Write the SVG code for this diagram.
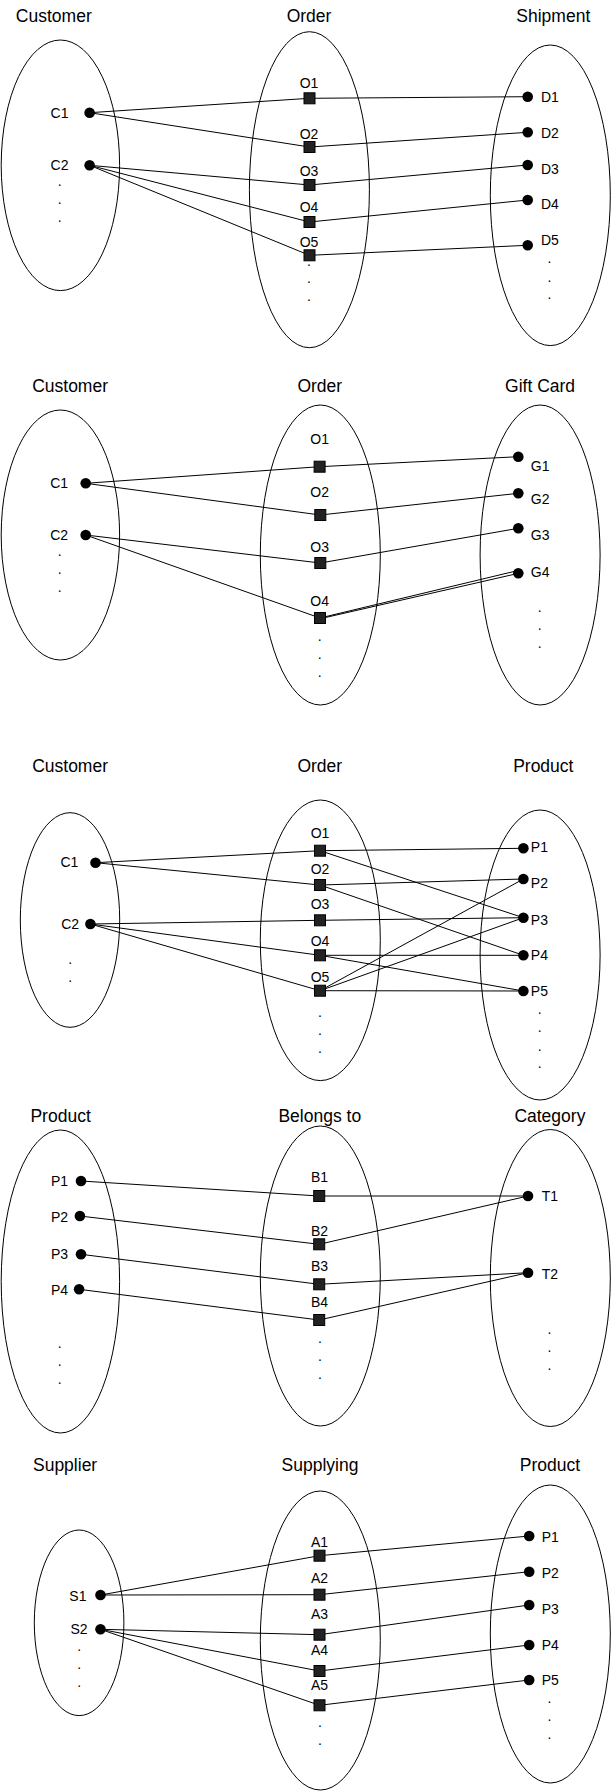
<svg xmlns="http://www.w3.org/2000/svg" width="611" height="1791" viewBox="0 0 611 1791">
<style>
.set{fill:none;stroke:#000;stroke-width:1}
.title{font-family:"Liberation Sans",Arial,Helvetica,sans-serif;font-size:17.5px;fill:#000;text-anchor:middle}
.lbl{font-family:"Liberation Sans",Arial,Helvetica,sans-serif;font-size:14px;fill:#000}
.m{text-anchor:middle}
.dot{fill:#000}
.sq{fill:#222;stroke:#000;stroke-width:1}
.cn line{stroke:#000;stroke-width:1}
</style>
<rect width="611" height="1791" fill="#fff"/>

<!-- ===== Section 1 ===== -->
<g id="set-customer-1"><ellipse class="set" cx="60.4" cy="165.3" rx="59.2" ry="125.3"/><text class="title" x="53.8" y="22">Customer</text>
<text class="lbl m" x="59.6" y="186">.</text><text class="lbl m" x="59.6" y="204.4">.</text><text class="lbl m" x="59.6" y="222.4">.</text></g>
<g id="set-order-1"><ellipse class="set" cx="309.4" cy="189.7" rx="60" ry="158"/><text class="title" x="309" y="22">Order</text>
<text class="lbl m" x="309" y="265.7">.</text><text class="lbl m" x="309" y="283.4">.</text><text class="lbl m" x="309" y="301.4">.</text></g>
<g id="set-shipment-1"><ellipse class="set" cx="550.3" cy="195.3" rx="60" ry="150.3"/><text class="title" x="553.3" y="22">Shipment</text>
<text class="lbl m" x="549.5" y="263.4">.</text><text class="lbl m" x="549.5" y="281.7">.</text><text class="lbl m" x="549.5" y="299.4">.</text></g>

<g id="connectors-1" class="cn">
<line x1="89.6" y1="112.7" x2="309.5" y2="98.3"/><line x1="309.5" y1="98.3" x2="527.7" y2="96.7"/>
<line x1="89.6" y1="112.7" x2="309.5" y2="147"/><line x1="309.5" y1="147" x2="527.7" y2="132.3"/>
<line x1="89.6" y1="165.3" x2="309.5" y2="185"/><line x1="309.5" y1="185" x2="527.7" y2="165"/>
<line x1="89.6" y1="165.3" x2="309.5" y2="222"/><line x1="309.5" y1="222" x2="527.7" y2="200"/>
<line x1="89.6" y1="165.3" x2="309.5" y2="255.3"/><line x1="309.5" y1="255.3" x2="527.7" y2="245.3"/>
</g>

<g id="C1-1"><circle class="dot" cx="89.6" cy="112.7" r="5.3"/><text class="lbl m" x="59.5" y="117.5">C1</text></g>
<g id="C2-1"><circle class="dot" cx="89.6" cy="165.3" r="5.3"/><text class="lbl m" x="59.5" y="169.5">C2</text></g>
<g id="O1-1"><rect class="sq" x="304" y="92.8" width="11" height="11"/><text class="lbl m" x="309" y="88.3">O1</text></g>
<g id="O2-1"><rect class="sq" x="304" y="141.5" width="11" height="11"/><text class="lbl m" x="309" y="139.3">O2</text></g>
<g id="O3-1"><rect class="sq" x="304" y="179.5" width="11" height="11"/><text class="lbl m" x="309" y="175.7">O3</text></g>
<g id="O4-1"><rect class="sq" x="304" y="216.5" width="11" height="11"/><text class="lbl m" x="309" y="212">O4</text></g>
<g id="O5-1"><rect class="sq" x="304" y="249.8" width="11" height="11"/><text class="lbl m" x="309" y="247.3">O5</text></g>
<g id="D1"><circle class="dot" cx="527.7" cy="96.7" r="5.3"/><text class="lbl" x="541" y="101.7">D1</text></g>
<g id="D2"><circle class="dot" cx="527.7" cy="132.3" r="5.3"/><text class="lbl" x="541" y="137.5">D2</text></g>
<g id="D3"><circle class="dot" cx="527.7" cy="165" r="5.3"/><text class="lbl" x="541" y="174">D3</text></g>
<g id="D4"><circle class="dot" cx="527.7" cy="200" r="5.3"/><text class="lbl" x="541" y="209">D4</text></g>
<g id="D5"><circle class="dot" cx="527.7" cy="245.3" r="5.3"/><text class="lbl" x="541" y="245.3">D5</text></g>

<!-- ===== Section 2 ===== -->
<g id="set-customer-2"><ellipse class="set" cx="60.4" cy="535" rx="59.2" ry="125"/><text class="title" x="70.1" y="391.7">Customer</text>
<text class="lbl m" x="59.6" y="556.4">.</text><text class="lbl m" x="59.6" y="574">.</text><text class="lbl m" x="59.6" y="592">.</text></g>
<g id="set-order-2"><ellipse class="set" cx="320.3" cy="555" rx="60" ry="150"/><text class="title" x="319.8" y="391.7">Order</text>
<text class="lbl m" x="319.6" y="641.4">.</text><text class="lbl m" x="319.6" y="659">.</text><text class="lbl m" x="319.6" y="676.7">.</text></g>
<g id="set-giftcard-2"><ellipse class="set" cx="540.1" cy="555" rx="60" ry="150"/><text class="title" x="540.1" y="391.7">Gift Card</text>
<text class="lbl m" x="539.7" y="612">.</text><text class="lbl m" x="539.7" y="630">.</text><text class="lbl m" x="539.7" y="648">.</text></g>

<g id="connectors-2" class="cn">
<line x1="85.7" y1="483.3" x2="319.6" y2="466.7"/><line x1="319.6" y1="466.7" x2="518.3" y2="456.7"/>
<line x1="85.7" y1="483.3" x2="320.3" y2="515"/><line x1="320.3" y1="515" x2="518.3" y2="493.3"/>
<line x1="85.7" y1="535" x2="320.3" y2="563"/><line x1="320.3" y1="563" x2="518.3" y2="528.3"/>
<line x1="85.7" y1="535" x2="320" y2="618"/>
<line x1="322" y1="617.5" x2="516" y2="571"/><line x1="322" y1="618.3" x2="515.5" y2="574"/>
</g>

<g id="C1-2"><circle class="dot" cx="85.7" cy="483.3" r="5.3"/><text class="lbl m" x="59.2" y="488.3">C1</text></g>
<g id="C2-2"><circle class="dot" cx="85.7" cy="535" r="5.3"/><text class="lbl m" x="59.2" y="540">C2</text></g>
<g id="O1-2"><rect class="sq" x="314.1" y="461.2" width="11" height="11"/><text class="lbl m" x="319.6" y="443.7">O1</text></g>
<g id="O2-2"><rect class="sq" x="314.8" y="509.5" width="11" height="11"/><text class="lbl m" x="319.6" y="497.3">O2</text></g>
<g id="O3-2"><rect class="sq" x="314.8" y="557.5" width="11" height="11"/><text class="lbl m" x="319.6" y="552">O3</text></g>
<g id="O4-2"><rect class="sq" x="314.5" y="612.5" width="11" height="11"/><text class="lbl m" x="319.6" y="605.7">O4</text></g>
<g id="G1"><circle class="dot" cx="518.3" cy="456.7" r="5.3"/><text class="lbl" x="530.8" y="471.3">G1</text></g>
<g id="G2"><circle class="dot" cx="518.3" cy="493.3" r="5.3"/><text class="lbl" x="530.8" y="504">G2</text></g>
<g id="G3"><circle class="dot" cx="518.3" cy="528.3" r="5.3"/><text class="lbl" x="530.8" y="540.3">G3</text></g>
<g id="G4"><circle class="dot" cx="518.3" cy="573.3" r="5.3"/><text class="lbl" x="530.8" y="577">G4</text></g>

<!-- ===== Section 3 ===== -->
<g id="set-customer-3"><ellipse class="set" cx="70" cy="920" rx="49.7" ry="107.3"/><text class="title" x="70.1" y="772.3">Customer</text>
<text class="lbl m" x="70.1" y="964.4">.</text><text class="lbl m" x="70.1" y="982.4">.</text></g>
<g id="set-order-3"><ellipse class="set" cx="320.3" cy="940.3" rx="60" ry="140.3"/><text class="title" x="319.8" y="772.3">Order</text>
<text class="lbl m" x="320" y="1016.7">.</text><text class="lbl m" x="320" y="1035">.</text><text class="lbl m" x="320" y="1053">.</text></g>
<g id="set-product-3"><ellipse class="set" cx="540.1" cy="955" rx="60" ry="145"/><text class="title" x="543.3" y="772.3">Product</text>
<text class="lbl m" x="539.7" y="1014">.</text><text class="lbl m" x="539.7" y="1032.4">.</text><text class="lbl m" x="539.7" y="1050.7">.</text><text class="lbl m" x="539.7" y="1068.4">.</text></g>

<g id="connectors-3" class="cn">
<line x1="95.5" y1="862.7" x2="320" y2="850.7"/><line x1="95.5" y1="862.7" x2="320" y2="885"/>
<line x1="90.4" y1="924" x2="320" y2="920.3"/><line x1="90.4" y1="924" x2="320" y2="955.3"/><line x1="90.4" y1="924" x2="320" y2="990.7"/>
<line x1="320" y1="850.7" x2="523.4" y2="848.3"/><line x1="320" y1="850.7" x2="523.4" y2="917.7"/>
<line x1="320" y1="885" x2="523.4" y2="879"/><line x1="320" y1="885" x2="523.4" y2="955.3"/>
<line x1="320" y1="920.3" x2="523.4" y2="917.7"/>
<line x1="320" y1="955.3" x2="523.4" y2="955.3"/><line x1="320" y1="955.3" x2="523.4" y2="991"/>
<line x1="320" y1="990.7" x2="523.4" y2="879"/><line x1="320" y1="990.7" x2="523.4" y2="917.7"/><line x1="320" y1="990.7" x2="523.4" y2="991"/>
</g>

<g id="C1-3"><circle class="dot" cx="95.5" cy="862.7" r="5.3"/><text class="lbl m" x="69.4" y="867.3">C1</text></g>
<g id="C2-3"><circle class="dot" cx="90.4" cy="924" r="5.3"/><text class="lbl m" x="70.1" y="929">C2</text></g>
<g id="O1-3"><rect class="sq" x="314.5" y="845.2" width="11" height="11"/><text class="lbl m" x="320" y="838">O1</text></g>
<g id="O2-3"><rect class="sq" x="314.5" y="879.5" width="11" height="11"/><text class="lbl m" x="320" y="873.7">O2</text></g>
<g id="O3-3"><rect class="sq" x="314.5" y="914.8" width="11" height="11"/><text class="lbl m" x="320" y="909.3">O3</text></g>
<g id="O4-3"><rect class="sq" x="314.5" y="949.8" width="11" height="11"/><text class="lbl m" x="320" y="945.7">O4</text></g>
<g id="O5-3"><rect class="sq" x="314.5" y="985.2" width="11" height="11"/><text class="lbl m" x="320" y="981.7">O5</text></g>
<g id="P1-3"><circle class="dot" cx="523.4" cy="848.3" r="5.3"/><text class="lbl" x="530.8" y="852.3">P1</text></g>
<g id="P2-3"><circle class="dot" cx="523.4" cy="879" r="5.3"/><text class="lbl" x="530.8" y="888">P2</text></g>
<g id="P3-3"><circle class="dot" cx="523.4" cy="917.7" r="5.3"/><text class="lbl" x="530.8" y="924.7">P3</text></g>
<g id="P4-3"><circle class="dot" cx="523.4" cy="955.3" r="5.3"/><text class="lbl" x="530.8" y="960.3">P4</text></g>
<g id="P5-3"><circle class="dot" cx="523.4" cy="991" r="5.3"/><text class="lbl" x="530.8" y="996.3">P5</text></g>

<!-- ===== Section 4 ===== -->
<g id="set-product-4"><ellipse class="set" cx="60.4" cy="1281.5" rx="59.2" ry="151.5"/><text class="title" x="60.6" y="1121.7">Product</text>
<text class="lbl m" x="59.6" y="1348">.</text><text class="lbl m" x="59.6" y="1366.4">.</text><text class="lbl m" x="59.6" y="1384.4">.</text></g>
<g id="set-belongs-4"><ellipse class="set" cx="320.3" cy="1276" rx="60" ry="150"/><text class="title" x="319.8" y="1121.7">Belongs to</text>
<text class="lbl m" x="320" y="1343">.</text><text class="lbl m" x="320" y="1361">.</text><text class="lbl m" x="320" y="1379.4">.</text></g>
<g id="set-category-4"><ellipse class="set" cx="550.3" cy="1278" rx="60" ry="148.5"/><text class="title" x="549.9" y="1121.7">Category</text>
<text class="lbl m" x="549.5" y="1333.7">.</text><text class="lbl m" x="549.5" y="1351.7">.</text><text class="lbl m" x="549.5" y="1370">.</text></g>

<g id="connectors-4" class="cn">
<line x1="81" y1="1181" x2="319.2" y2="1196"/><line x1="319.2" y1="1196" x2="528" y2="1196"/>
<line x1="79.9" y1="1216" x2="319.2" y2="1244.3"/><line x1="319.2" y1="1244.3" x2="528" y2="1196"/>
<line x1="81" y1="1254.3" x2="319.2" y2="1284.3"/><line x1="319.2" y1="1284.3" x2="528" y2="1272.7"/>
<line x1="79.1" y1="1289.3" x2="319.2" y2="1320"/><line x1="319.2" y1="1320" x2="528" y2="1272.7"/>
</g>

<g id="P1-4"><circle class="dot" cx="81" cy="1181" r="5.3"/><text class="lbl m" x="59.6" y="1186.3">P1</text></g>
<g id="P2-4"><circle class="dot" cx="79.9" cy="1216" r="5.3"/><text class="lbl m" x="59.6" y="1221.7">P2</text></g>
<g id="P3-4"><circle class="dot" cx="81" cy="1254.3" r="5.3"/><text class="lbl m" x="59.6" y="1258.7">P3</text></g>
<g id="P4-4"><circle class="dot" cx="79.1" cy="1289.3" r="5.3"/><text class="lbl m" x="59.6" y="1294.7">P4</text></g>
<g id="B1"><rect class="sq" x="313.7" y="1190.5" width="11" height="11"/><text class="lbl m" x="319.6" y="1182">B1</text></g>
<g id="B2"><rect class="sq" x="313.7" y="1238.8" width="11" height="11"/><text class="lbl m" x="319.6" y="1236">B2</text></g>
<g id="B3"><rect class="sq" x="313.7" y="1278.8" width="11" height="11"/><text class="lbl m" x="319.6" y="1271.3">B3</text></g>
<g id="B4"><rect class="sq" x="313.7" y="1314.5" width="11" height="11"/><text class="lbl m" x="319.6" y="1307.3">B4</text></g>
<g id="T1"><circle class="dot" cx="528" cy="1196" r="5.3"/><text class="lbl" x="541.7" y="1200.7">T1</text></g>
<g id="T2"><circle class="dot" cx="528" cy="1272.7" r="5.3"/><text class="lbl" x="541.7" y="1279">T2</text></g>

<!-- ===== Section 5 ===== -->
<g id="set-supplier-5"><ellipse class="set" cx="79.1" cy="1622.8" rx="44.8" ry="92.8"/><text class="title" x="65.1" y="1471.3">Supplier</text>
<text class="lbl m" x="79.1" y="1651">.</text><text class="lbl m" x="79.1" y="1669">.</text><text class="lbl m" x="79.1" y="1687.4">.</text></g>
<g id="set-supplying-5"><ellipse class="set" cx="320.3" cy="1640.5" rx="60" ry="149.5"/><text class="title" x="320" y="1471.3">Supplying</text>
<text class="lbl m" x="320" y="1726.7">.</text><text class="lbl m" x="320" y="1744.7">.</text></g>
<g id="set-product-5"><ellipse class="set" cx="550.3" cy="1634" rx="60" ry="149"/><text class="title" x="550" y="1471.3">Product</text>
<text class="lbl m" x="549.5" y="1703">.</text><text class="lbl m" x="549.5" y="1721.4">.</text><text class="lbl m" x="549.5" y="1739.4">.</text></g>

<g id="connectors-5" class="cn">
<line x1="100.5" y1="1595" x2="319.5" y2="1555.7"/><line x1="319.5" y1="1555.7" x2="529.2" y2="1536"/>
<line x1="100.5" y1="1595" x2="319.5" y2="1594.7"/><line x1="319.5" y1="1594.7" x2="529.2" y2="1571.7"/>
<line x1="100.5" y1="1629.3" x2="319.5" y2="1634.7"/><line x1="319.5" y1="1634.7" x2="529.2" y2="1605"/>
<line x1="100.5" y1="1629.3" x2="319.5" y2="1671"/><line x1="319.5" y1="1671" x2="529.2" y2="1645"/>
<line x1="100.5" y1="1629.3" x2="319.5" y2="1705.3"/><line x1="319.5" y1="1705.3" x2="529.2" y2="1680"/>
</g>

<g id="S1"><circle class="dot" cx="100.5" cy="1595" r="5.3"/><text class="lbl m" x="77.9" y="1601.3">S1</text></g>
<g id="S2"><circle class="dot" cx="100.5" cy="1629.3" r="5.3"/><text class="lbl m" x="79.1" y="1634">S2</text></g>
<g id="A1"><rect class="sq" x="314" y="1550.2" width="11" height="11"/><text class="lbl m" x="319.6" y="1547">A1</text></g>
<g id="A2"><rect class="sq" x="314" y="1589.2" width="11" height="11"/><text class="lbl m" x="319.6" y="1583">A2</text></g>
<g id="A3"><rect class="sq" x="314" y="1629.2" width="11" height="11"/><text class="lbl m" x="319.6" y="1618.7">A3</text></g>
<g id="A4"><rect class="sq" x="314" y="1665.5" width="11" height="11"/><text class="lbl m" x="319.6" y="1655">A4</text></g>
<g id="A5"><rect class="sq" x="314" y="1699.8" width="11" height="11"/><text class="lbl m" x="319.6" y="1690.3">A5</text></g>
<g id="P1-5"><circle class="dot" cx="529.2" cy="1536" r="5.3"/><text class="lbl" x="541.7" y="1542">P1</text></g>
<g id="P2-5"><circle class="dot" cx="529.2" cy="1571.7" r="5.3"/><text class="lbl" x="541.7" y="1578">P2</text></g>
<g id="P3-5"><circle class="dot" cx="529.2" cy="1605" r="5.3"/><text class="lbl" x="541.7" y="1614">P3</text></g>
<g id="P4-5"><circle class="dot" cx="529.2" cy="1645" r="5.3"/><text class="lbl" x="541.7" y="1649.7">P4</text></g>
<g id="P5-5"><circle class="dot" cx="529.2" cy="1680" r="5.3"/><text class="lbl" x="541.7" y="1685.3">P5</text></g>
</svg>
